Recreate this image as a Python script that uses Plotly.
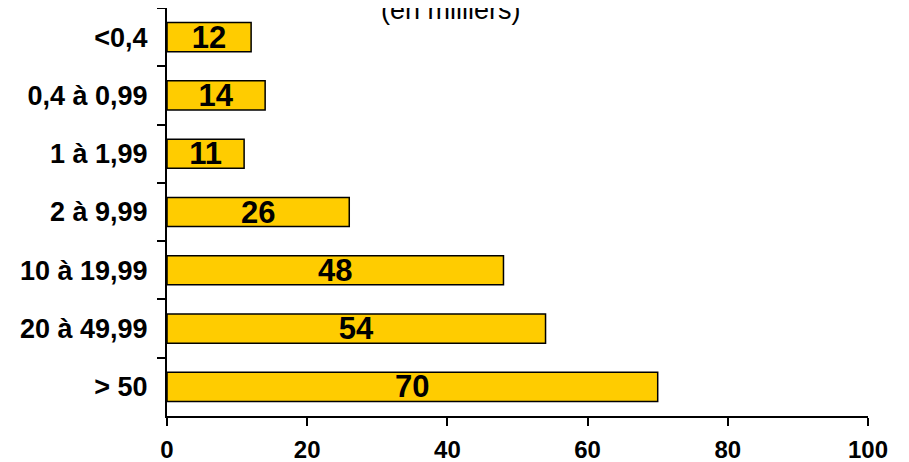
import plotly.graph_objects as go

categories = ["<0,4", "0,4 à 0,99", "1 à 1,99", "2 à 9,99", "10 à 19,99", "20 à 49,99", "> 50"]
values = [12, 14, 11, 26, 48, 54, 70]
x_ticks = [0, 20, 40, 60, 80, 100]
title_text = "(en milliers)"

FONT = "Arial, 'Liberation Sans', sans-serif"

fig = go.Figure()
fig.add_trace(go.Bar(
    y=categories,
    x=values,
    orientation="h",
    marker=dict(color="#FFCC00", line=dict(color="black", width=1.5)),
    text=[str(v) for v in values],
    textposition="inside",
    insidetextanchor="middle",
    textangle=0,
    textfont=dict(family=FONT, size=31, color="black", weight="bold"),
    width=0.5,
    hoverinfo="skip",
))

fig.update_layout(
    width=909, height=462,
    margin=dict(l=159, r=49, t=0, b=54),
    paper_bgcolor="white", plot_bgcolor="white",
    showlegend=False,
    uniformtext=dict(minsize=31, mode="show"),
    bargap=0.5,
)

fig.update_xaxes(
    range=[0, 100],
    tickvals=x_ticks,
    ticktext=[str(t) for t in x_ticks],
    ticks="outside", ticklen=8, tickwidth=2, tickcolor="black",
    showline=True, linecolor="black", linewidth=2,
    showgrid=False, zeroline=False,
    tickfont=dict(family=FONT, size=24, color="black", weight="bold"),
    ticklabelstandoff=3,
    automargin=False,
)
fig.update_yaxes(
    type="category",
    categoryorder="array", categoryarray=categories,
    autorange="reversed",
    ticks="outside", ticklen=8, tickwidth=2, tickcolor="black",
    tickson="boundaries",
    showline=True, linecolor="black", linewidth=2,
    showgrid=False, zeroline=False,
    tickfont=dict(family=FONT, size=27, color="black", weight="bold"),
    ticklabelstandoff=12,
    automargin=False,
)

fig.add_annotation(
    text=title_text,
    xref="paper", yref="paper",
    x=0.405, y=1,
    xanchor="center", yanchor="bottom",
    yshift=-19,
    showarrow=False,
    font=dict(family=FONT, size=27, color="black"),
)

fig.write_html("out.html")
